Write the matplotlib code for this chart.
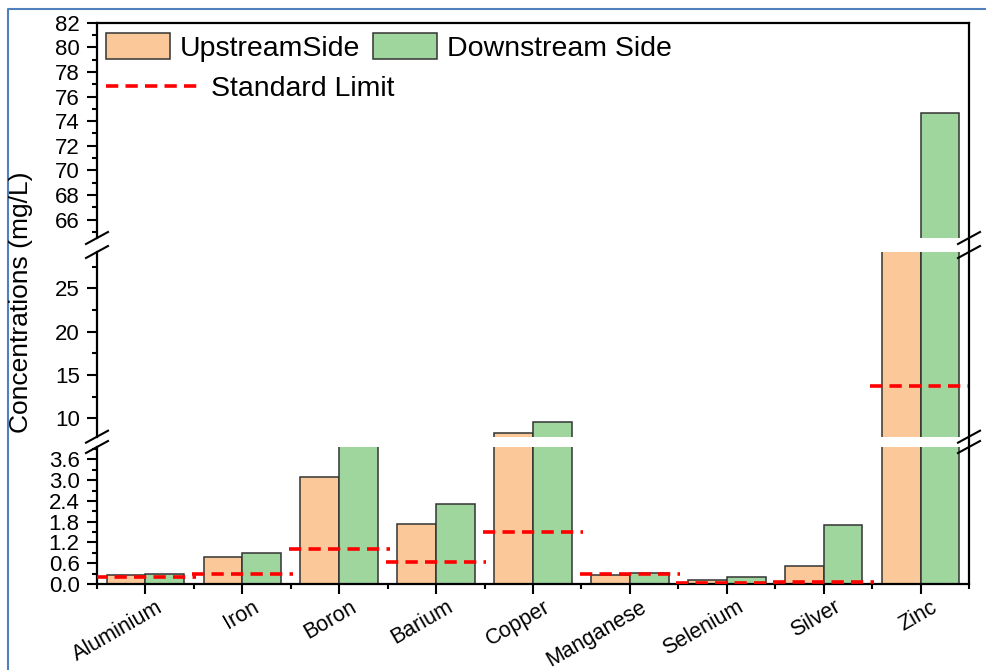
import matplotlib
matplotlib.use("Agg")
import matplotlib.pyplot as plt
import matplotlib.transforms as mtransforms
from matplotlib.lines import Line2D
from matplotlib.patches import Patch
from matplotlib.ticker import MultipleLocator, FormatStrFormatter, FixedLocator
import numpy as np

plt.rcParams['font.family'] = ['Liberation Sans', 'DejaVu Sans']

# data
metals = ["Aluminium", "Iron", "Boron", "Barium", "Copper",
          "Manganese", "Selenium", "Silver", "Zinc"]
upstream = [0.26, 0.79, 3.08, 1.73, 8.3, 0.25, 0.11, 0.51, 40.0]
downstream = [0.30, 0.90, 5.0, 2.30, 9.55, 0.33, 0.21, 1.70, 74.7]
std_limit = [0.2, 0.3, 1.0, 0.65, 1.5, 0.3, 0.02, 0.05, 13.7]

up_color = "#FBC999"
down_color = "#9ED69E"
edge = "#333333"

W, H = 987, 670
fig = plt.figure(figsize=(W / 100, H / 100), dpi=100)

L, R = 97, 969
# pixel rows (from the top) of each axis segment: (top, bottom)
segs = [(22.7, 238), (252, 436.7), (447, 584)]
ylims = [(64.5, 82), (7.9, 29.2), (0, 3.96)]
majors = [2, 5, 0.6]
minors = [1, 2.5, 0.3]

def fpos(x, y):
    return x / W, 1 - y / H

axes = []
for (t, b) in segs:
    ax = fig.add_axes([L / W, 1 - b / H, (R - L) / W, (b - t) / H])
    axes.append(ax)

x = np.arange(len(metals))
for i, ax in enumerate(axes):
    ax.bar(x - 0.2, upstream, width=0.4, color=up_color, edgecolor=edge,
           linewidth=1.1, zorder=2)
    ax.bar(x + 0.2, downstream, width=0.4, color=down_color, edgecolor=edge,
           linewidth=1.1, zorder=2)
    ax.hlines(std_limit, x - 0.52, x + 0.52, colors="#FF0000", linewidth=2.6,
              linestyles=(0, (3.4, 2)), zorder=3)
    ax.set_xlim(-0.5, 8.5)
    ax.set_ylim(*ylims[i])
    ax.yaxis.set_major_locator(MultipleLocator(majors[i]))
    ax.yaxis.set_minor_locator(MultipleLocator(minors[i]))
    ax.spines['right'].set_visible(False)
    for s in ax.spines.values():
        s.set_linewidth(1.6)
    ax.tick_params(axis='y', which='major', length=7.5, width=1.5,
                   labelsize=16, pad=5)
    ax.tick_params(axis='y', which='minor', length=3.8, width=1.5)
    if i < 2:
        ax.spines['bottom'].set_visible(False)
        ax.tick_params(axis='x', which='both', bottom=False, labelbottom=False)
    if i > 0:
        ax.spines['top'].set_visible(False)

axes[2].yaxis.set_major_formatter(FormatStrFormatter('%.1f'))

bot = axes[2]
bot.set_xticks(x)
bot.set_xticklabels(metals, rotation=30, ha='right', rotation_mode='anchor')
bot.xaxis.set_minor_locator(FixedLocator(np.arange(-0.5, 9, 1.0)))
bot.tick_params(axis='x', which='major', length=7, width=1.5, labelsize=15.5, pad=2)
bot.tick_params(axis='x', which='minor', length=3.5, width=1.5)
offset = mtransforms.ScaledTranslation(0.1, 0, fig.dpi_scale_trans)
for lab in bot.get_xticklabels():
    lab.set_transform(lab.get_transform() + offset)

# continuous right frame line
x0, y0 = fpos(R, segs[0][0])
x1, y1 = fpos(R, segs[2][1])
fig.add_artist(Line2D([x0, x1], [y0, y1], color='black', lw=1.6,
                      transform=fig.transFigure))

# break marks
for xb in (L, R):
    for yb in (segs[0][1], segs[1][0], segs[1][1], segs[2][0]):
        ax_, ay_ = fpos(xb - 11, yb + 6)
        bx_, by_ = fpos(xb + 11, yb - 6)
        fig.add_artist(Line2D([ax_, bx_], [ay_, by_], color='black', lw=1.5,
                              transform=fig.transFigure))

# y label
lx, ly = fpos(21, 302)
fig.text(lx, ly, "Concentrations (mg/L)", rotation=90, ha='center',
         va='center', fontsize=19)

# legend
top = axes[0]
h_bars = [Patch(facecolor=up_color, edgecolor=edge, linewidth=1.1),
          Patch(facecolor=down_color, edgecolor=edge, linewidth=1.1)]
leg1 = top.legend(h_bars, ["UpstreamSide", "Downstream Side"], ncol=2,
                  loc='upper left', bbox_to_anchor=(0.0103, 0.952),
                  frameon=False, fontsize=20.5, handlelength=2.25,
                  handleheight=1.0, handletextpad=0.35, columnspacing=0.45,
                  borderpad=0, borderaxespad=0)
top.add_artist(leg1)
h_line = [Line2D([], [], color="#FF0000", lw=2.6, linestyle=(0, (3.4, 2)))]
top.legend(h_line, ["Standard Limit"], loc='center left',
           bbox_to_anchor=(0.0103, 0.692), frameon=False, fontsize=20.5,
           handlelength=3.4, handletextpad=0.3, borderpad=0, borderaxespad=0)

# blue outer border
bl = fpos(8, 670)
tl = fpos(8, 9)
tr = fpos(987, 9)
fig.add_artist(Line2D([bl[0], tl[0], tr[0]], [bl[1], tl[1], tr[1]],
                      color="#4F81BD", lw=1.5, transform=fig.transFigure))

fig.savefig("out.png", dpi=100)
